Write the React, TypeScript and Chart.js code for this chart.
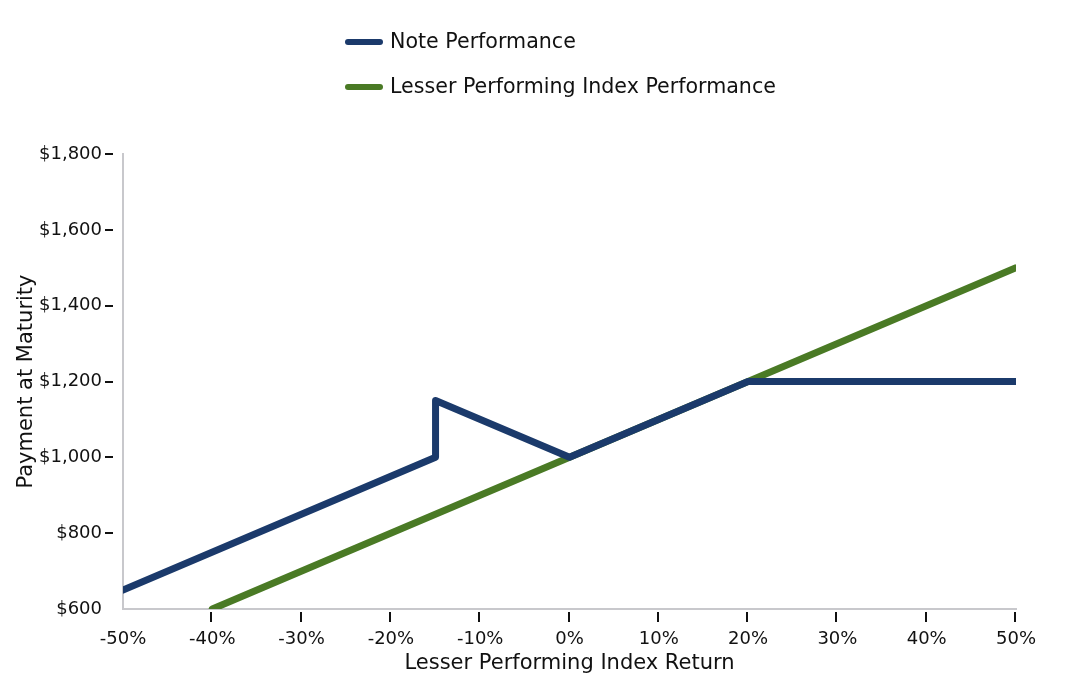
import React, { useEffect, useRef } from "react";
import { Chart, registerables } from "chart.js";

Chart.register(...registerables);

const noteLabel = "Note Performance";
const indexLabel = "Lesser Performing Index Performance";
const noteX = [-50, -15, -15, 0, 20, 50];
const noteY = [650, 1000, 1150, 1000, 1200, 1200];
const indexX = [-40, 50];
const indexY = [600, 1500];
const noteColor = "#1b3a6b";
const indexColor = "#4a7a25";
const xTitle = "Lesser Performing Index Return";
const yTitle = "Payment at Maturity";
const FONT = "'DejaVu Sans', sans-serif";

const legendPlugin = {
  id: "customLegend",
  afterDraw(chart: any) {
    const ctx = chart.ctx;
    const items = chart.data.datasets;
    ctx.save();
    items.forEach((ds: any, i: number) => {
      const y = 42 + i * 45;
      ctx.strokeStyle = ds.borderColor;
      ctx.lineWidth = 6;
      ctx.lineCap = "round";
      ctx.beginPath();
      ctx.moveTo(348, y);
      ctx.lineTo(380, y);
      ctx.stroke();
      ctx.fillStyle = "#111";
      ctx.font = `20.6px ${FONT}`;
      ctx.textBaseline = "middle";
      ctx.textAlign = "left";
      ctx.fillText(ds.label, 390, y + 1);
    });
    ctx.restore();
  },
};

const tickPlugin = {
  id: "gapTicks",
  afterDraw(chart: any) {
    const ctx = chart.ctx;
    const xs = chart.scales.x;
    const ys = chart.scales.y;
    const area = chart.chartArea;
    ctx.save();
    ctx.strokeStyle = "#111";
    ctx.lineWidth = 2;
    ctx.beginPath();
    xs.ticks.forEach((t: any, i: number) => {
      if (i === 0) return;
      const px = Math.round(xs.getPixelForValue(t.value)) - 1;
      ctx.moveTo(px, area.bottom + 3);
      ctx.lineTo(px, area.bottom + 13);
    });
    ys.ticks.forEach((t: any, i: number) => {
      if (i === 0) return;
      const py = Math.round(ys.getPixelForValue(t.value));
      ctx.moveTo(area.left - 18, py);
      ctx.lineTo(area.left - 10, py);
    });
    ctx.stroke();
    ctx.restore();
  },
};

export default function App() {
  const ref = useRef<HTMLCanvasElement>(null);
  useEffect(() => {
    if (!ref.current) return;
    const chart = new Chart(ref.current, {
      type: "line",
      data: {
        datasets: [
          {
            label: noteLabel,
            data: noteX.map((x, i) => ({ x, y: noteY[i] })),
            borderColor: noteColor,
            backgroundColor: noteColor,
            borderWidth: 7,
            pointRadius: 0,
            borderJoinStyle: "round",
            borderCapStyle: "round",
            tension: 0,
          },
          {
            label: indexLabel,
            data: indexX.map((x, i) => ({ x, y: indexY[i] })),
            borderColor: indexColor,
            backgroundColor: indexColor,
            borderWidth: 7,
            pointRadius: 0,
            borderCapStyle: "round",
            tension: 0,
          },
        ],
      },
      options: {
        responsive: false,
        animation: false,
        layout: { padding: { top: 154, right: 72, left: 10, bottom: 8 } },
        plugins: { legend: { display: false }, tooltip: { enabled: false } },
        scales: {
          x: {
            type: "linear",
            min: -50,
            max: 50,
            afterFit: (s: any) => { s.height = 71; },
            ticks: {
              stepSize: 10,
              color: "#111",
              font: { family: FONT, size: 18 },
              padding: 20,
              maxRotation: 0,
              callback: (v: any) => `${v}%`,
            },
            grid: { drawOnChartArea: false, drawTicks: false },
            border: { color: "#c8c8cc", width: 2 },
            title: { display: true, text: xTitle, color: "#111", font: { family: FONT, size: 21 }, padding: { top: 0, bottom: 4 } },
          },
          y: {
            type: "linear",
            min: 600,
            max: 1800,
            afterFit: (s: any) => { s.width = 113; },
            ticks: {
              stepSize: 200,
              color: "#111",
              font: { family: FONT, size: 18 },
              padding: 21,
              callback: (v: any) => `$${Number(v).toLocaleString("en-US")}`,
            },
            grid: { drawOnChartArea: false, drawTicks: false },
            border: { color: "#c8c8cc", width: 2 },
            title: { display: true, text: yTitle, color: "#111", font: { family: FONT, size: 21 }, padding: { top: 4, bottom: 0 } },
          },
        },
      },
      plugins: [legendPlugin, tickPlugin],
    } as any);
    return () => chart.destroy();
  }, []);
  return (
    <div style={{ position: "absolute", left: 0, top: 0, width: 1088, height: 688, background: "#fff" }}>
      <canvas ref={ref} width={1088} height={688} />
    </div>
  );
}
